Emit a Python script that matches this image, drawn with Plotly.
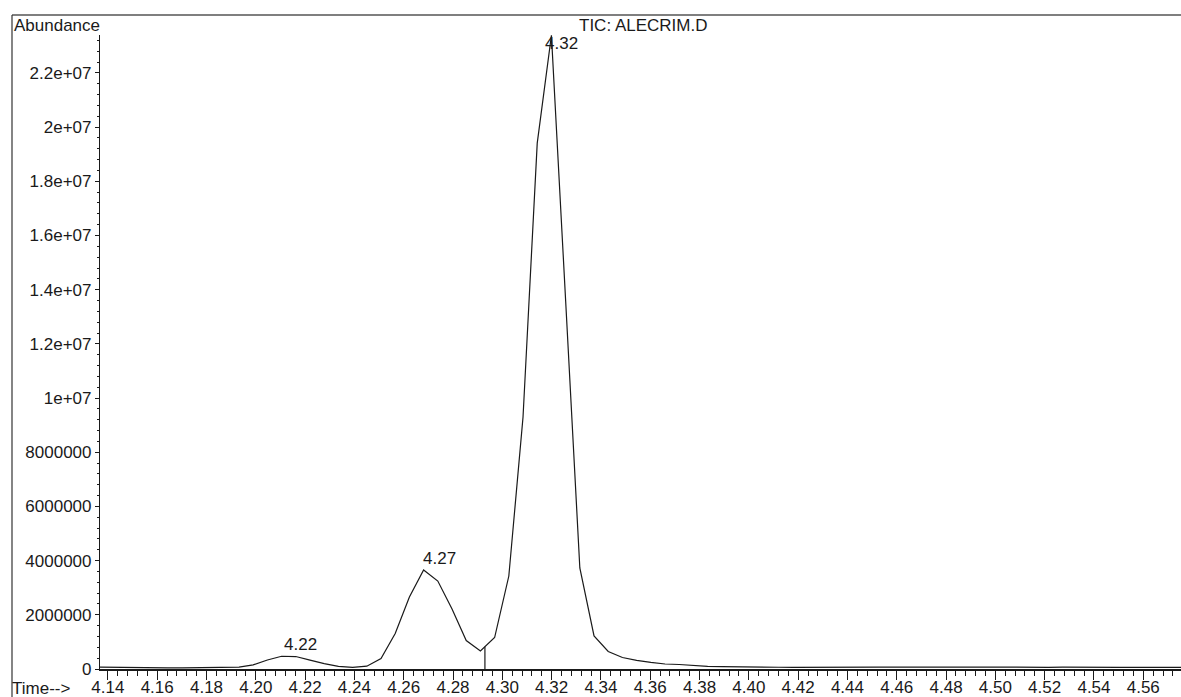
import numpy as np
import plotly.graph_objects as go

# ---- data ----
times = [4.13558, 4.14134, 4.14710, 4.15286, 4.15862, 4.16438, 4.17014, 4.17590,
         4.18166, 4.18742, 4.19318, 4.19894, 4.20471, 4.21047, 4.21623, 4.22199,
         4.22775, 4.23351, 4.23927, 4.24503, 4.25079, 4.25655, 4.26231, 4.26807,
         4.27383, 4.27960, 4.28536, 4.29112, 4.29688, 4.30264, 4.30840, 4.31416,
         4.31992, 4.32568, 4.33144, 4.33720, 4.34296, 4.34872, 4.35448, 4.36024,
         4.36601, 4.37177, 4.37753, 4.38329, 4.38905, 4.39481, 4.40057, 4.40633,
         4.41209, 4.41785, 4.42361, 4.42937, 4.43513, 4.44089, 4.44665, 4.45241,
         4.45817, 4.46394, 4.46970, 4.47546, 4.48122, 4.48698, 4.49274, 4.49850,
         4.50426, 4.51002, 4.51578, 4.52154, 4.52730, 4.53306, 4.53882, 4.54458,
         4.55035, 4.55611, 4.56187, 4.56763, 4.57339, 4.57915]
abundance = [70000, 60000, 50000, 45000, 42000, 40000, 42000, 45000,
             50000, 60000, 70000, 150000, 332000, 470000, 460000, 330000,
             200000, 100000, 63000, 103000, 387000, 1310000, 2657000, 3653000,
             3247000, 2214000, 1052000, 664000, 1162000, 3432000, 9300000, 19410000,
             23390000, 13600000, 3730000, 1220000, 646000, 424000, 321000, 247000,
             185000, 166000, 122000, 100000, 85000, 74000, 70000, 66000,
             64000, 62000, 66000, 72000, 78000, 80000, 76000, 70000,
             66000, 62000, 60000, 62000, 64000, 70000, 72000, 66000,
             60000, 58000, 60000, 62000, 68000, 72000, 70000, 64000,
             60000, 58000, 60000, 62000, 60000, 60000]

peak_labels = ["4.22", "4.27", "4.32"]
peak_times = [4.21047, 4.26807, 4.31992]
peak_values = [470000, 3653000, 23390000]
marker_time = 4.29294

y_tickvals = [0, 2000000, 4000000, 6000000, 8000000, 10000000, 12000000,
              14000000, 16000000, 18000000, 20000000, 22000000]
y_ticktext = ["0", "2000000", "4000000", "6000000", "8000000", "1e+07", "1.2e+07",
              "1.4e+07", "1.6e+07", "1.8e+07", "2e+07", "2.2e+07"]

title_text = "TIC: ALECRIM.D"
y_label = "Abundance"
x_label = "Time-->"

# ---- layout geometry ----
W, H = 1181, 697
ML, MR, MT, MB = 100, 0, 35, 28
PW, PH = W - ML - MR, H - MT - MB

def px(x):  # pixel -> paper x
    return (x - ML) / PW

def py(y):  # pixel -> paper y
    return (H - MB - y) / PH

FONT = "Liberation Sans, Arial, Helvetica, sans-serif"
FS = 17
INK = "#1a1a1a"

fig = go.Figure()
fig.add_trace(go.Scatter(x=times, y=abundance, mode="lines",
                         line=dict(color=INK, width=1.2), showlegend=False,
                         hoverinfo="x+y"))
marker_val = float(np.interp(marker_time, times, abundance))
fig.add_trace(go.Scatter(x=[marker_time, marker_time], y=[0, marker_val], mode="lines",
                         line=dict(color=INK, width=1.2), showlegend=False,
                         hoverinfo="skip"))

annotations = []
shifts = [(0, "bottom", 0), (-3, "bottom", 0), (-8, "middle", -8)]
for lab, t, v, (xs, ya, ys) in zip(peak_labels, peak_times, peak_values, shifts):
    annotations.append(dict(x=t, y=v, xref="x", yref="y", text=lab, showarrow=False,
                            xanchor="left", yanchor=ya, xshift=xs, yshift=ys,
                            font=dict(family=FONT, size=FS, color=INK)))
annotations.append(dict(x=px(12), y=py(25), xref="paper", yref="paper", text=y_label,
                        showarrow=False, xanchor="left", yanchor="middle",
                        font=dict(family=FONT, size=FS, color=INK)))
annotations.append(dict(x=px(643), y=py(25), xref="paper", yref="paper", text=title_text,
                        showarrow=False, xanchor="center", yanchor="middle",
                        font=dict(family=FONT, size=FS, color=INK)))
annotations.append(dict(x=px(10), y=py(688), xref="paper", yref="paper", text=x_label,
                        showarrow=False, xanchor="left", yanchor="middle",
                        font=dict(family=FONT, size=FS, color=INK)))

shapes = [
    dict(type="line", xref="paper", yref="paper", x0=px(12), x1=px(W + 2),
         y0=py(15), y1=py(15), line=dict(color="#555", width=1.5)),
    dict(type="line", xref="paper", yref="paper", x0=px(12), x1=px(12),
         y0=py(15), y1=py(H + 2), line=dict(color="#333", width=1.2)),
]

fig.update_layout(
    width=W, height=H, autosize=False,
    margin=dict(l=ML, r=MR, t=MT, b=MB, pad=0, autoexpand=False),
    paper_bgcolor="white", plot_bgcolor="white",
    font=dict(family=FONT, size=FS, color=INK),
    annotations=annotations, shapes=shapes,
    xaxis=dict(range=[4.1368, 4.5753], tickmode="linear", tick0=4.14, dtick=0.02,
               tickformat=".2f", ticks="outside", ticklen=9, tickwidth=1.2,
               tickcolor=INK, showline=True, linecolor=INK, linewidth=2,
               showgrid=False, zeroline=False, automargin=False,
               ticklabelstandoff=-7,
               tickfont=dict(family=FONT, size=FS, color=INK),
               minor=dict(tick0=4.14, dtick=0.004, ticks="outside", ticklen=5,
                          tickwidth=1, tickcolor=INK, showgrid=False)),
    yaxis=dict(range=[0, 23.4e6], tickmode="array", tickvals=y_tickvals,
               ticktext=y_ticktext, ticks="outside", ticklen=4, tickwidth=1,
               tickcolor=INK, showline=True, linecolor=INK, linewidth=1.2,
               showgrid=False, zeroline=False, automargin=False,
               tickfont=dict(family=FONT, size=FS, color=INK),
               minor=dict(tick0=0, dtick=400000, ticks="outside", ticklen=2,
                          tickwidth=1, tickcolor=INK, showgrid=False)),
)

fig.write_html("out.html")
